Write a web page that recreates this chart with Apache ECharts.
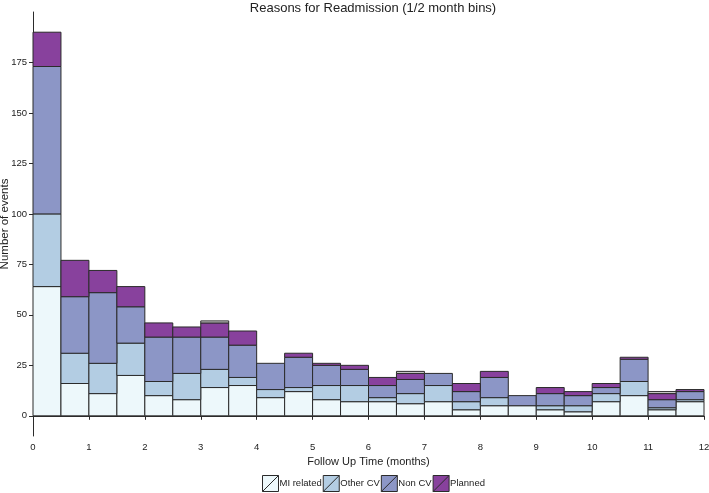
<!DOCTYPE html>
<html>
<head>
<meta charset="utf-8">
<script src="https://cdn.jsdelivr.net/npm/echarts@6/dist/echarts.min.js"></script>
<style>
  html, body { margin: 0; padding: 0; background: #fff; }
  #main { width: 709px; height: 493px; }
</style>
</head>
<body>
<div id="main"></div>
<script>
// bin starts (months), half-month wide
var binStarts = [0, 0.5, 1, 1.5, 2, 2.5, 3, 3.5, 4, 4.5, 5, 5.5, 6, 6.5, 7, 7.5, 8, 8.5, 9, 9.5, 10, 10.5, 11, 11.5];
var binWidth = 0.5;

// counts per bin for each reason
var miRelated = [64, 16, 11, 20, 10, 8, 14, 15, 9, 12, 8, 7, 7, 6, 7, 3, 5, 5, 3, 2, 7, 10, 3, 7];
var otherCV   = [36, 15, 15, 16, 7, 13, 9, 4, 4, 2, 7, 8, 2, 5, 8, 4, 4, 0, 2, 3, 4, 7, 1, 1];
var nonCV     = [73, 28, 35, 18, 22, 18, 16, 16, 13, 15, 10, 8, 6, 7, 6, 5, 10, 5, 6, 5, 3, 11, 4, 4];
var planned   = [17, 18, 11, 10, 7, 5, 7, 7, 0, 2, 1, 2, 4, 3, 0, 4, 3, 0, 3, 2, 2, 1, 3, 1];
var unknown   = [0, 0, 0, 0, 0, 0, 1, 0, 0, 0, 0, 0, 0, 1, 0, 0, 0, 0, 0, 0, 0, 0, 1, 0];

var yTicks = [0, 25, 50, 75, 100, 125, 150, 175];

var layers = [
    { name: 'MI related', values: miRelated, color: '#edf8fb' },
    { name: 'Other CV',   values: otherCV,   color: '#b3cde3' },
    { name: 'Non CV',     values: nonCV,     color: '#8c96c6' },
    { name: 'Planned',    values: planned,   color: '#88419d' },
    { name: 'Unknown',    values: unknown,   color: '#d4d4d4' }
];

var myChart = echarts.init(document.getElementById('main'));

// stack the layers by hand
var base = binStarts.map(function () { return 0; });
var series = layers.map(function (layer, li) {
    var data = binStarts.map(function (x0, i) {
        var item = [x0, base[i], layer.values[i]];
        base[i] += layer.values[i];
        return item;
    });
    var s = {
        name: layer.name,
        type: 'custom',
        itemStyle: { color: layer.color, borderColor: '#2b2b2b', borderWidth: 1 },
        data: data,
        encode: { x: 0, y: 1 },
        renderItem: function (params, api) {
            var x0 = api.value(0), b = api.value(1), v = api.value(2);
            if (!v) return;
            var p1 = api.coord([x0, b + v]);
            var p2 = api.coord([x0 + binWidth, b]);
            return {
                type: 'rect',
                shape: { x: p1[0], y: p1[1], width: p2[0] - p1[0], height: p2[1] - p1[1] },
                style: { fill: layer.color, stroke: '#2b2b2b', lineWidth: 1 }
            };
        }
    };
    if (li === 0) {
        // line at zero across the whole plot
        s.markLine = {
            silent: true,
            symbol: 'none',
            label: { show: false },
            lineStyle: { color: '#2b2b2b', type: 'solid', width: 1 },
            data: [{ yAxis: 0 }]
        };
    }
    return s;
});

var option = {
    animation: false,
    title: {
        text: 'Reasons for Readmission (1/2 month bins)',
        left: 368,
        textAlign: 'center',
        top: -3,
        textStyle: { fontFamily: 'Liberation Sans', fontSize: 13, fontWeight: 'normal', color: '#222' }
    },
    legend: {
        data: ['MI related', 'Other CV', 'Non CV', 'Planned'],
        bottom: -4,
        left: 257,
        itemWidth: 16,
        itemHeight: 16,
        itemGap: 1,
        icon: 'path://M0,0L20,0L20,20L0,20ZM0,20L20,0',
        itemStyle: { borderColor: '#2b2b2b', borderWidth: 1 },
        textStyle: { fontFamily: 'Liberation Sans', fontSize: 9.5, color: '#222', padding: [0, 0, 0, -4] }
    },
    grid: { left: 33, right: 5, top: 12, bottom: 57, outerBoundsMode: 'none' },
    xAxis: {
        type: 'value',
        min: 0,
        max: 12,
        interval: 1,
        name: 'Follow Up Time (months)',
        nameLocation: 'middle',
        nameGap: 20,
        nameMoveOverlap: false,
        nameTextStyle: { fontFamily: 'Liberation Sans', fontSize: 11, color: '#222' },
        axisLine: { show: true, lineStyle: { color: '#2b2b2b', width: 1 } },
        axisTick: { show: true, length: 4, lineStyle: { color: '#2b2b2b' } },
        axisLabel: { fontFamily: 'Liberation Sans', fontSize: 9.5, color: '#222', margin: 6 },
        splitLine: { show: false }
    },
    yAxis: {
        type: 'value',
        min: -10,
        max: 200,
        name: 'Number of events',
        nameLocation: 'middle',
        nameGap: 22,
        nameMoveOverlap: false,
        nameTextStyle: { fontFamily: 'Liberation Sans', fontSize: 11.5, color: '#222' },
        axisLine: { show: true, lineStyle: { color: '#2b2b2b', width: 1 } },
        axisTick: { show: true, length: 4, customValues: yTicks, lineStyle: { color: '#2b2b2b' } },
        axisLabel: { fontFamily: 'Liberation Sans', fontSize: 9.5, color: '#222', margin: 6, customValues: yTicks },
        splitLine: { show: false }
    },
    series: series
};

myChart.setOption(option);
</script>
</body>
</html>
